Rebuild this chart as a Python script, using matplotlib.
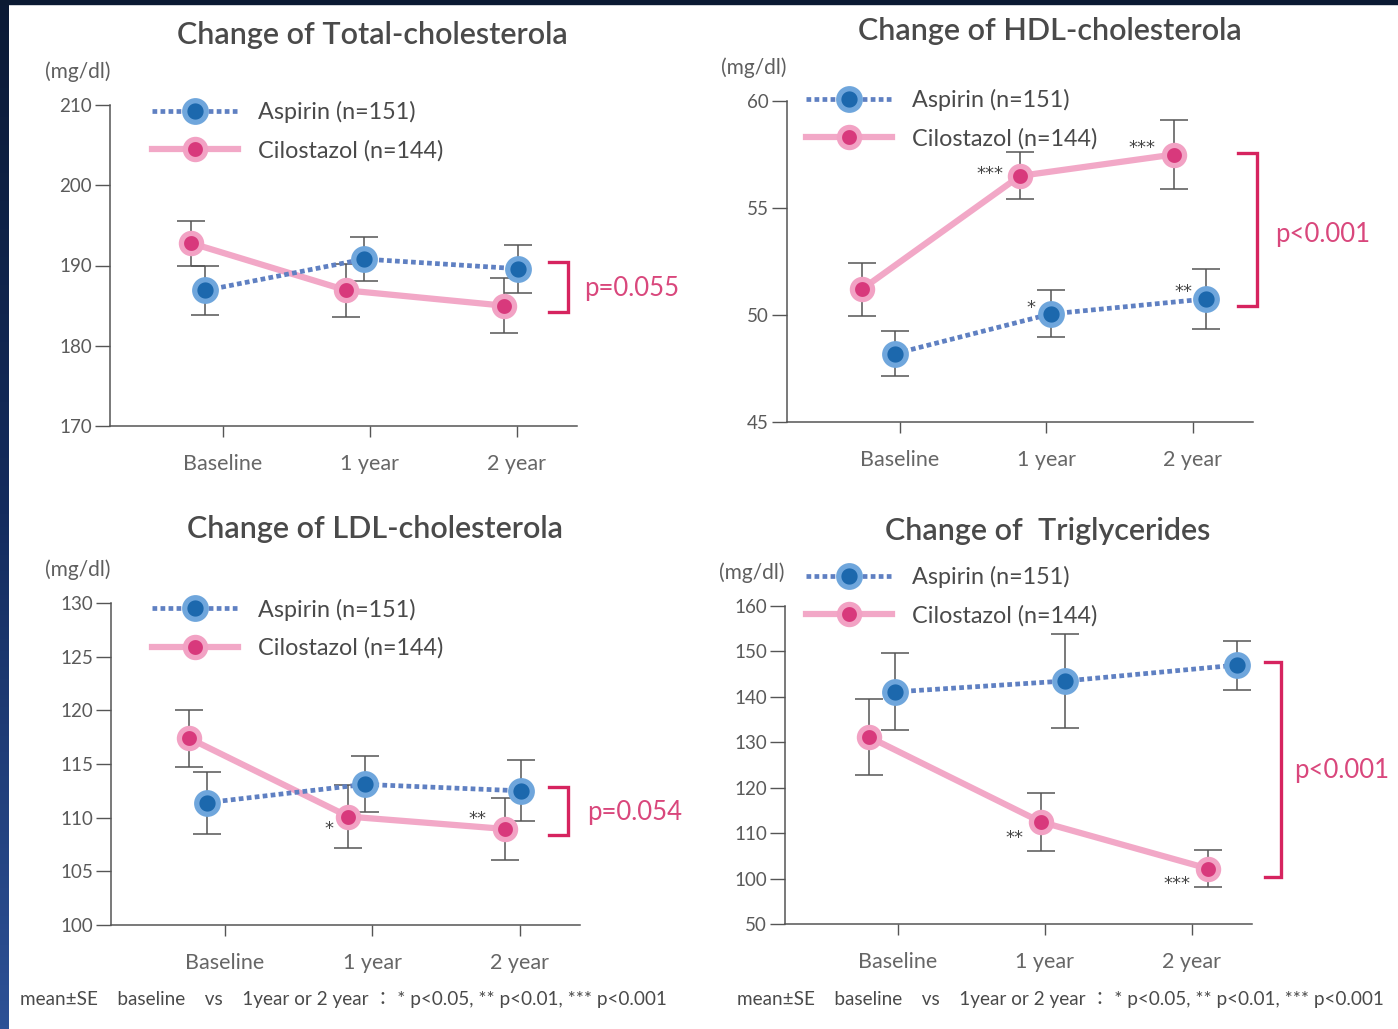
import numpy as np
import matplotlib
matplotlib.use("Agg")
import matplotlib.pyplot as plt
from matplotlib.lines import Line2D
from matplotlib.patches import Rectangle
from matplotlib.colors import LinearSegmentedColormap

plt.rcParams['font.family'] = ['Lato', 'Noto Sans CJK JP', 'DejaVu Sans']

# ---------------- data (mean and SE, mg/dl) ----------------
CATEGORIES = ['Baseline', '1 year', '2 year']

TC_ASPIRIN = [186.9, 190.8, 189.6]
TC_ASPIRIN_SE = [3.1, 2.75, 3.0]
TC_CILOSTAZOL = [192.8, 186.9, 185.0]
TC_CILOSTAZOL_SE = [2.8, 3.3, 3.4]

HDL_ASPIRIN = [48.2, 50.05, 50.75]
HDL_ASPIRIN_SE = [1.05, 1.1, 1.4]
HDL_CILOSTAZOL = [51.2, 56.5, 57.5]
HDL_CILOSTAZOL_SE = [1.25, 1.1, 1.6]

LDL_ASPIRIN = [111.4, 113.1, 112.5]
LDL_ASPIRIN_SE = [2.9, 2.6, 2.85]
LDL_CILOSTAZOL = [117.4, 110.1, 108.95]
LDL_CILOSTAZOL_SE = [2.65, 2.9, 2.9]

TG_ASPIRIN = [141.1, 143.5, 147.0]
TG_ASPIRIN_SE = [8.5, 10.3, 5.4]
TG_CILOSTAZOL = [131.2, 112.5, 102.2]
TG_CILOSTAZOL_SE = [8.4, 6.4, 4.0]

ASPIRIN_LABEL = 'Aspirin (n=151)'
CILOSTAZOL_LABEL = 'Cilostazol (n=144)'
FOOTNOTE = 'mean\u00b1SE    baseline    vs    1year or 2 year \uff1a * p<0.05, ** p<0.01, *** p<0.001'

# ---------------- styles ----------------
BLUE_IN, BLUE_OUT, BLUE_LINE = '#1c68ad', '#6fa6dc', '#5f80c2'
PINK_IN, PINK_OUT, PINK_LINE = '#d8397c', '#f2a2c4', '#f2a8c7'
BRACKET = '#d6245f'
PTEXT = '#d9477c'
GREY = '#555555'
TXT = '#4a4a4a'

W, H = 1398, 1029
fig = plt.figure(figsize=(W / 100, H / 100), dpi=100)
fig.patch.set_facecolor('white')


def px_rect(x0, y0, x1, y1):
    return [x0 / W, 1 - y1 / H, (x1 - x0) / W, (y1 - y0) / H]


def tg_forward(y):
    y = np.asarray(y, dtype=float)
    return np.where(y >= 92, y, 92 - (92 - y) * (2.0 / 42.0))


def tg_inverse(v):
    v = np.asarray(v, dtype=float)
    return np.where(v >= 92, v, 92 - (92 - v) * 21.0)


def panel(rect, title, title_xy, unit_xy, ylim, yticks,
          asp, asp_se, cil, cil_se, asp_off, cil_off,
          legend_anchor, bracket, ptext, stars, broken=False):
    ax = fig.add_axes(px_rect(*rect))
    if broken:
        ax.set_yscale('function', functions=(tg_forward, tg_inverse))
    x = np.arange(len(CATEGORIES))
    xa = x + np.array(asp_off)
    xc = x + np.array(cil_off)

    # error bars
    ax.errorbar(xc, cil, yerr=cil_se, fmt='none', ecolor=GREY, elinewidth=1.1,
                capsize=10, capthick=1.1, zorder=2)
    ax.errorbar(xa, asp, yerr=asp_se, fmt='none', ecolor=GREY, elinewidth=1.1,
                capsize=10, capthick=1.1, zorder=2)
    # lines
    ax.plot(xc, cil, '-', color=PINK_LINE, lw=4.5, zorder=3, solid_capstyle='butt')
    ax.plot(xa, asp, color=BLUE_LINE, lw=3.4, ls=(0, (1.0, 0.7)), zorder=4)
    # markers
    ax.plot(xc, cil, 'o', ms=14.5, mfc=PINK_IN, mec=PINK_OUT, mew=3.8, lw=0, zorder=5)
    ax.plot(xa, asp, 'o', ms=15.5, mfc=BLUE_IN, mec=BLUE_OUT, mew=3.8, lw=0, zorder=6)

    ax.set_xlim(-0.77, 2.41)
    ax.set_ylim(*ylim)
    ax.set_yticks(yticks)
    ax.set_yticklabels([str(t) for t in yticks])
    ax.set_xticks(x)
    ax.set_xticklabels(CATEGORIES)
    for s in ('top', 'right'):
        ax.spines[s].set_visible(False)
    for s in ('left', 'bottom'):
        ax.spines[s].set_color(GREY)
        ax.spines[s].set_linewidth(1.1)
    ax.tick_params(axis='y', length=11, width=1.0, color=GREY, pad=2,
                   labelsize=13.5, labelcolor='#5a5a5a')
    ax.tick_params(axis='x', length=8, width=1.0, color=GREY, pad=12,
                   labelsize=15.5, labelcolor='#666666')
    ax.set_facecolor('none')

    # legend
    handles = [
        Line2D([], [], color=BLUE_LINE, lw=3.4, ls=(0, (1.0, 0.7)), marker='o',
               ms=15.5, mfc=BLUE_IN, mec=BLUE_OUT, mew=3.8),
        Line2D([], [], color=PINK_LINE, lw=4.5, marker='o',
               ms=14.5, mfc=PINK_IN, mec=PINK_OUT, mew=3.8),
    ]
    ax.legend(handles, [ASPIRIN_LABEL, CILOSTAZOL_LABEL], loc='center left',
              bbox_to_anchor=legend_anchor, frameon=False, fontsize=16.8,
              handlelength=3.7, handletextpad=0.85, labelspacing=0.72,
              borderpad=0, borderaxespad=0, numpoints=1,
              labelcolor=TXT)

    # significance bracket
    bx, btick, ytop, ybot = bracket
    ax.plot([btick, bx, bx, btick], [ytop, ytop, ybot, ybot], color=BRACKET,
            lw=2.4, clip_on=False, solid_joinstyle='miter', zorder=7)
    ax.text(ptext[0], ptext[1], ptext[2], color=PTEXT, fontsize=18.5,
            ha='left', va='center')

    # within-group significance marks
    for series, idx, dx, dy, s in stars:
        xs, ys = (xa, asp) if series == 'a' else (xc, cil)
        ax.annotate(s, (xs[idx], ys[idx]), xytext=(dx * 0.72, dy * 0.72),
                    textcoords='offset points', ha='center', va='center',
                    fontsize=13, color='#444444', zorder=8,
                    family=['DejaVu Sans'])

    fig.text(title_xy[0] / W, 1 - title_xy[1] / H, title, ha='center', va='center',
             fontsize=22, color=TXT, fontweight='semibold')
    fig.text(unit_xy[0] / W, 1 - unit_xy[1] / H, '(mg/dl)', ha='right', va='center',
             fontsize=15, color='#5f5f5f')
    return ax


panel((110, 105, 577, 426), 'Change of Total-cholesterola', (372, 35), (110, 72),
      (170, 210), [170, 180, 190, 200, 210],
      TC_ASPIRIN, TC_ASPIRIN_SE, TC_CILOSTAZOL, TC_CILOSTAZOL_SE,
      [-0.12, -0.04, 0.01], [-0.22, -0.16, -0.09],
      (0.09, 0.918), (2.35, 2.22, 190.4, 184.25), (2.46, 187.1, 'p=0.055'), [])

panel((787, 101, 1253, 422), 'Change of HDL-cholesterola', (1050, 31), (787, 68),
      (45, 60), [45, 50, 55, 60],
      HDL_ASPIRIN, HDL_ASPIRIN_SE, HDL_CILOSTAZOL, HDL_CILOSTAZOL_SE,
      [-0.03, 0.03, 0.09], [-0.26, -0.18, -0.13],
      (0.041, 0.944), (2.44, 2.31, 57.57, 50.42), (2.56, 53.74, 'p<0.001'),
      [('c', 1, -30, 2, '***'), ('c', 2, -32, 7, '***'),
       ('a', 1, -20, 6, '*'), ('a', 2, -23, 7, '**')])

panel((111, 603, 580, 925), 'Change of LDL-cholesterola', (375, 529), (111, 570),
      (100, 130), [100, 105, 110, 115, 120, 125, 130],
      LDL_ASPIRIN, LDL_ASPIRIN_SE, LDL_CILOSTAZOL, LDL_CILOSTAZOL_SE,
      [-0.12, -0.05, 0.01], [-0.24, -0.16, -0.10],
      (0.087, 0.920), (2.33, 2.20, 112.86, 108.39), (2.46, 110.44, 'p=0.054'),
      [('c', 1, -19, -12, '*'), ('c', 2, -27, 10, '**')])

panel((785, 606, 1252, 924), 'Change of  Triglycerides', (1048, 531), (785, 573),
      (50, 160), [50, 100, 110, 120, 130, 140, 150, 160],
      TG_ASPIRIN, TG_ASPIRIN_SE, TG_CILOSTAZOL, TG_CILOSTAZOL_SE,
      [-0.02, 0.14, 0.31], [-0.20, -0.03, 0.11],
      (0.045, 1.031), (2.61, 2.50, 147.7, 100.4), (2.70, 123.7, 'p<0.001'),
      [('c', 1, -26, -16, '**'), ('c', 2, -31, -15, '***')], broken=True)

fig.text(20 / W, 1 - 1000 / H, FOOTNOTE, ha='left', va='center', fontsize=13.6, color=TXT)
fig.text(737 / W, 1 - 1000 / H, FOOTNOTE, ha='left', va='center', fontsize=13.6, color=TXT)

# frame strips along the top and left edges
edge = fig.add_axes([0, 0, 9 / W, 1])
grad = np.linspace(0, 1, 256).reshape(-1, 1)
cmap = LinearSegmentedColormap.from_list('edge', ['#0b1a35', '#142c5e', '#2d5196'])
edge.imshow(grad, aspect='auto', cmap=cmap, extent=(0, 1, 1, 0))
edge.set_axis_off()
fig.add_artist(Rectangle((0, 1 - 4 / H), 1, 4 / H, transform=fig.transFigure,
                         color='#0b1a33', zorder=10))

fig.savefig('out.png', dpi=100, facecolor='white')
